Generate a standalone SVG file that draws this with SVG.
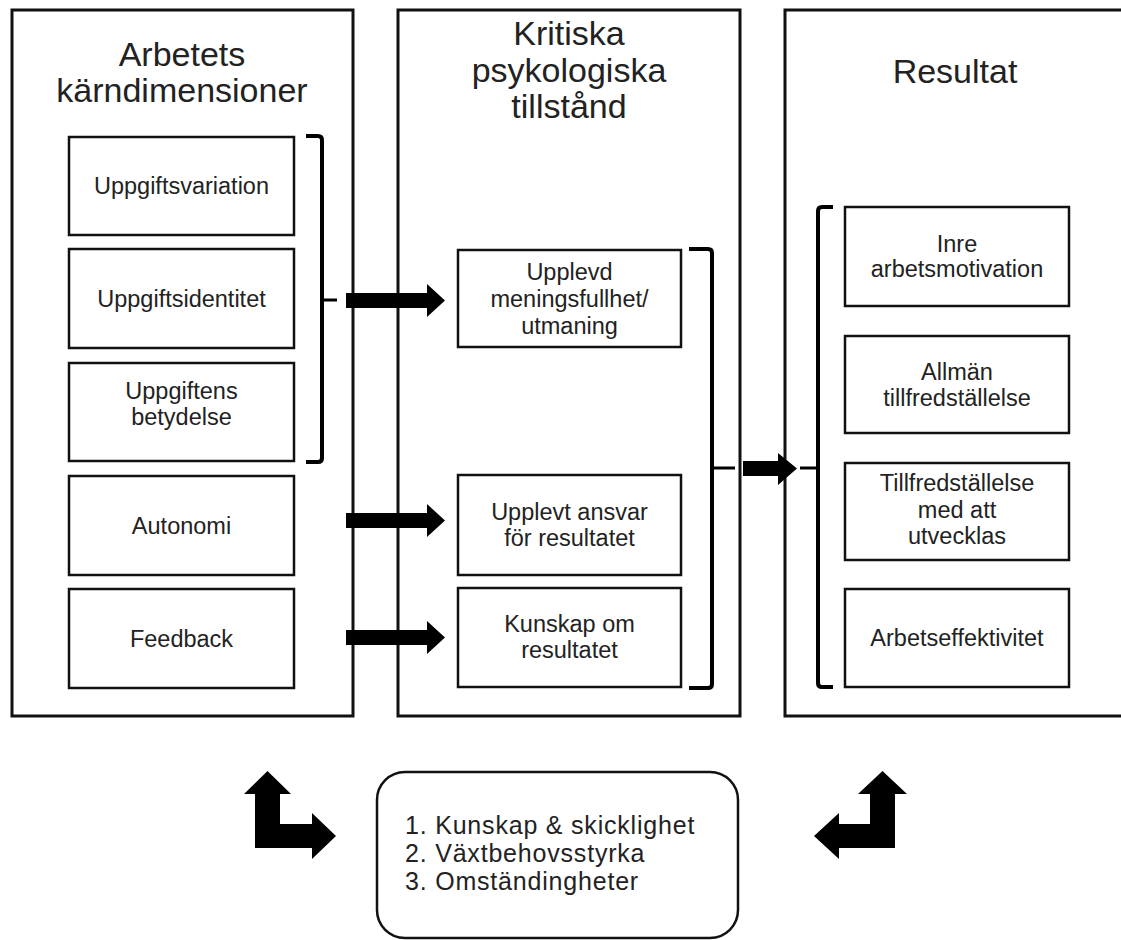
<svg xmlns="http://www.w3.org/2000/svg" width="1121" height="940" viewBox="0 0 1121 940">
  <style>
    .panel { fill: #ffffff; stroke: #111111; stroke-width: 3; }
    .box { fill: #ffffff; stroke: #111111; stroke-width: 2.5; }
    .title { font-family: "Liberation Sans", Arial, sans-serif; font-size: 34px; fill: #222222; text-anchor: middle; }
    .label { font-family: "Liberation Sans", Arial, sans-serif; font-size: 23.5px; fill: #222222; text-anchor: middle; }
    .list { font-family: "Liberation Sans", Arial, sans-serif; font-size: 25px; letter-spacing: 0.8px; fill: #222222; }
    .bracket { fill: none; stroke: #000000; stroke-width: 4; stroke-linejoin: round; stroke-linecap: butt; }
    .tick { fill: none; stroke: #000000; stroke-width: 3; }
    .arrow { fill: #000000; stroke: none; }
  </style>

  <rect x="0" y="0" width="1121" height="940" fill="#ffffff"/>

  <!-- column panels -->
  <g id="panel-karndimensioner">
    <rect class="panel" x="12" y="10" width="341" height="706"/>
    <text class="title" x="182" y="66">Arbetets</text>
    <text class="title" x="182" y="102">kärndimensioner</text>
  </g>
  <g id="panel-tillstand">
    <rect class="panel" x="398" y="10" width="342" height="706"/>
    <text class="title" x="569" y="45">Kritiska</text>
    <text class="title" x="569" y="82">psykologiska</text>
    <text class="title" x="569" y="118">tillstånd</text>
  </g>
  <g id="panel-resultat">
    <rect class="panel" x="785" y="10" width="345" height="706"/>
    <text class="title" x="955" y="83">Resultat</text>
  </g>

  <!-- core job dimensions -->
  <g id="uppgiftsvariation">
    <rect class="box" x="69" y="137" width="225" height="98"/>
    <text class="label" x="181.5" y="194">Uppgiftsvariation</text>
  </g>
  <g id="uppgiftsidentitet">
    <rect class="box" x="69" y="249" width="225" height="99"/>
    <text class="label" x="181.5" y="306.5">Uppgiftsidentitet</text>
  </g>
  <g id="uppgiftens-betydelse">
    <rect class="box" x="69" y="363" width="225" height="98"/>
    <text class="label" x="181.5" y="399">Uppgiftens</text>
    <text class="label" x="181.5" y="425">betydelse</text>
  </g>
  <g id="autonomi">
    <rect class="box" x="69" y="476" width="225" height="99"/>
    <text class="label" x="181.5" y="533.5">Autonomi</text>
  </g>
  <g id="feedback">
    <rect class="box" x="69" y="589" width="225" height="99"/>
    <text class="label" x="181.5" y="646.5">Feedback</text>
  </g>

  <!-- critical psychological states -->
  <g id="meningsfullhet">
    <rect class="box" x="458" y="250" width="223" height="97"/>
    <text class="label" x="569.5" y="280">Upplevd</text>
    <text class="label" x="569.5" y="307">meningsfullhet/</text>
    <text class="label" x="569.5" y="334">utmaning</text>
  </g>
  <g id="ansvar">
    <rect class="box" x="458" y="475" width="223" height="100"/>
    <text class="label" x="569.5" y="520">Upplevt ansvar</text>
    <text class="label" x="569.5" y="546">för resultatet</text>
  </g>
  <g id="kunskap">
    <rect class="box" x="458" y="588" width="223" height="99"/>
    <text class="label" x="569.5" y="632">Kunskap om</text>
    <text class="label" x="569.5" y="658">resultatet</text>
  </g>

  <!-- outcomes -->
  <g id="arbetsmotivation">
    <rect class="box" x="845" y="207" width="224" height="99"/>
    <text class="label" x="957" y="252">Inre</text>
    <text class="label" x="957" y="277">arbetsmotivation</text>
  </g>
  <g id="tillfredstallelse">
    <rect class="box" x="845" y="336" width="224" height="97"/>
    <text class="label" x="957" y="380">Allmän</text>
    <text class="label" x="957" y="406">tillfredställelse</text>
  </g>
  <g id="utvecklas">
    <rect class="box" x="845" y="463" width="224" height="97"/>
    <text class="label" x="957" y="491">Tillfredställelse</text>
    <text class="label" x="957" y="518">med att</text>
    <text class="label" x="957" y="544">utvecklas</text>
  </g>
  <g id="arbetseffektivitet">
    <rect class="box" x="845" y="589" width="224" height="98"/>
    <text class="label" x="957" y="646">Arbetseffektivitet</text>
  </g>

  <!-- moderators -->
  <g id="moderatorer">
    <rect class="box" x="377" y="772" width="361" height="166" rx="28" ry="28"/>
    <text class="list" x="405" y="834">1. Kunskap &amp; skicklighet</text>
    <text class="list" x="405" y="862">2. Växtbehovsstyrka</text>
    <text class="list" x="405" y="890">3. Omständingheter</text>
  </g>

  <!-- brackets and arrows -->
  <g id="connectors">
    <path class="bracket" d="M306,136 H318 Q322,136 322,140 V458 Q322,462 318,462 H306"/>
    <path class="tick" d="M322,300 H337"/>
    <path class="bracket" d="M689,249 H708 Q712,249 712,253 V684 Q712,688 708,688 H689"/>
    <path class="tick" d="M712,468 H735"/>
    <path class="bracket" d="M833,207 H822 Q818,207 818,211 V683 Q818,687 822,687 H833"/>
    <path class="tick" d="M800,468 H818"/>

    <polygon class="arrow" points="346,293 427,293 427,284 445,300.5 427,317 427,308 346,308"/>
    <polygon class="arrow" points="346,513 427,513 427,504 445,520.5 427,537 427,528 346,528"/>
    <polygon class="arrow" points="346,630 427,630 427,621 445,637.5 427,654 427,645 346,645"/>
    <polygon class="arrow" points="743,461 778,461 778,453 797,468.5 778,485 778,476 743,476"/>

    <polygon class="arrow" points="255,848 255,794 244,794 267.5,771 291,794 280,794 280,824 312,824 312,813 336,836 312,859 312,848"/>
    <polygon class="arrow" points="895,848 895,794 907,794 882.5,771 858,794 870,794 870,824 839,824 839,813 814,836 839,859 839,848"/>
  </g>
</svg>
